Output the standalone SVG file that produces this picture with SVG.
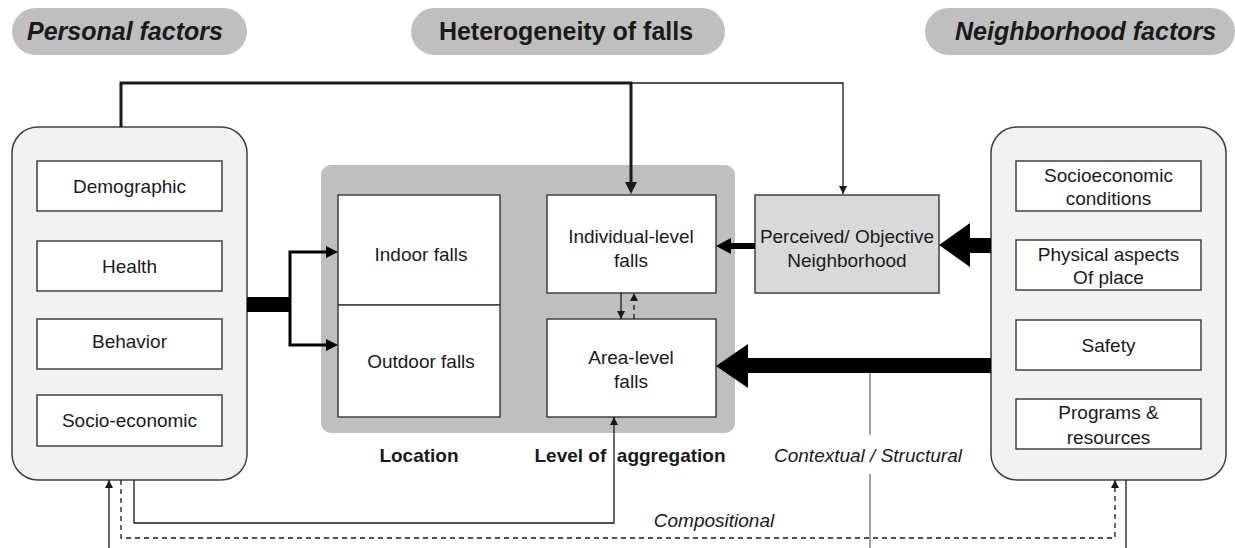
<svg xmlns="http://www.w3.org/2000/svg" width="1235" height="548" viewBox="0 0 1235 548">
<defs>
<style>
text{font-family:"Liberation Sans",Arial,sans-serif;fill:#1a1a1a}
.hd{font-size:25px;font-weight:bold}
.it{font-style:italic}
.lb{font-size:19px;text-anchor:middle}
.bl{font-size:19px;font-weight:bold;text-anchor:middle}
.pill{fill:#bfbfbf}
.outer{fill:#f2f2f2;stroke:#404040;stroke-width:1.5}
.box{fill:#fff;stroke:#404040;stroke-width:1.5}
.ln{fill:none;stroke:#1a1a1a;stroke-width:1.3}
.dash{stroke-dasharray:5,4}
</style>
<marker id="ah" viewBox="0 0 10 10" refX="10" refY="5" markerWidth="8" markerHeight="8" markerUnits="userSpaceOnUse" orient="auto"><path d="M0,0 L10,5 L0,10 Z" fill="#1a1a1a"/></marker>
</defs>
<rect width="1235" height="548" fill="#fff"/>
<g id="hdr-personal"><rect class="pill" x="12" y="8" width="235" height="47" rx="23.5"/><text class="hd it" x="27" y="40">Personal factors</text></g>
<g id="hdr-hetero"><rect class="pill" x="411" y="8" width="314" height="47" rx="23.5"/><text class="hd" x="566" y="40" text-anchor="middle">Heterogeneity of falls</text></g>
<g id="hdr-neigh"><rect class="pill" x="925" y="8" width="310" height="47" rx="23.5"/><text class="hd it" x="955" y="40">Neighborhood factors</text></g>
<g id="personal"><rect class="outer" x="12" y="127" width="235" height="353" rx="26"/>
<rect class="box" x="37" y="161" width="185" height="50"/><text class="lb" x="129.5" y="193">Demographic</text>
<rect class="box" x="37" y="241" width="185" height="50"/><text class="lb" x="129.5" y="273">Health</text>
<rect class="box" x="37" y="319" width="185" height="50"/><text class="lb" x="129.5" y="348">Behavior</text>
<rect class="box" x="37" y="395" width="185" height="51"/><text class="lb" x="129.5" y="427">Socio-economic</text></g>
<g id="hetero"><rect x="321" y="165" width="414" height="268" rx="10" fill="#bfbfbf"/></g>
<g id="indoor"><rect class="box" x="338" y="195" width="162" height="110"/><text class="lb" x="421" y="261">Indoor falls</text></g>
<g id="outdoor"><rect class="box" x="338" y="305" width="162" height="112"/><text class="lb" x="421" y="368">Outdoor falls</text></g>
<g id="individual"><rect class="box" x="547" y="195" width="169" height="98"/><text class="lb" x="631" y="243">Individual-level</text><text class="lb" x="631" y="267">falls</text></g>
<g id="area"><rect class="box" x="547" y="319" width="169" height="98"/><text class="lb" x="631" y="364">Area-level</text><text class="lb" x="631" y="388">falls</text></g>
<g id="perceived"><rect x="755" y="195" width="184" height="98" fill="#d9d9d9" stroke="#404040" stroke-width="1.5"/><text class="lb" x="847" y="243">Perceived/ Objective</text><text class="lb" x="847" y="267">Neighborhood</text></g>
<g id="neighborhood"><rect class="outer" x="991" y="127" width="235" height="353" rx="26"/>
<rect class="box" x="1016" y="161" width="185" height="50"/><text class="lb" x="1108.5" y="182">Socioeconomic</text><text class="lb" x="1108.5" y="205">conditions</text>
<rect class="box" x="1016" y="240" width="185" height="50"/><text class="lb" x="1108.5" y="261">Physical aspects</text><text class="lb" x="1108.5" y="284">Of place</text>
<rect class="box" x="1016" y="320" width="185" height="50"/><text class="lb" x="1108.5" y="352">Safety</text>
<rect class="box" x="1016" y="399" width="185" height="50"/><text class="lb" x="1108.5" y="419">Programs &amp;</text><text class="lb" x="1108.5" y="444">resources</text></g>
<g id="labels">
<text class="bl" x="419" y="462">Location</text>
<text class="bl" x="630" y="462" xml:space="preserve">Level of  aggregation</text>
<text class="lb it" x="868" y="462">Contextual / Structural</text>
<text class="lb it" x="714" y="527">Compositional</text>
</g>
<g id="connectors">
<path d="M121,127 V83 H631 V184" fill="none" stroke="#1a1a1a" stroke-width="3"/>
<polygon points="625,182 637,182 631,194" fill="#1a1a1a"/>
<path class="ln" d="M631,83 H843 V194" marker-end="url(#ah)"/>
<rect x="247" y="297" width="43" height="15" fill="#000"/>
<path d="M290,251 V346 M288.5,252 H328 M288.5,345 H328" fill="none" stroke="#000" stroke-width="3"/>
<polygon points="326,246 338,252 326,258" fill="#000"/>
<polygon points="326,339 338,345 326,351" fill="#000"/>
<rect x="729" y="243" width="26" height="6" fill="#000"/>
<polygon points="716,246 731,238 731,254" fill="#000"/>
<rect x="968" y="238" width="23" height="15" fill="#000"/>
<polygon points="939,245 970,223 970,267" fill="#000"/>
<rect x="746" y="358" width="245" height="15" fill="#000"/>
<polygon points="716,366 748,344 748,388" fill="#000"/>
<path class="ln" d="M621,293 V319" marker-end="url(#ah)"/>
<path class="ln dash" d="M634,319 V293" stroke-dasharray="3,2" marker-end="url(#ah)"/>
<path class="ln" d="M134,480 V523 H614 V417" marker-end="url(#ah)"/>
<path class="ln dash" d="M121,480 V538 H1115 V480" marker-end="url(#ah)"/>
<path class="ln" d="M109,548 V480" marker-end="url(#ah)"/>
<path class="ln" d="M1126,480 V548"/>
<path d="M870,373 V435 M870,474 V548" fill="none" stroke="#404040" stroke-width="1"/>
</g>
</svg>
